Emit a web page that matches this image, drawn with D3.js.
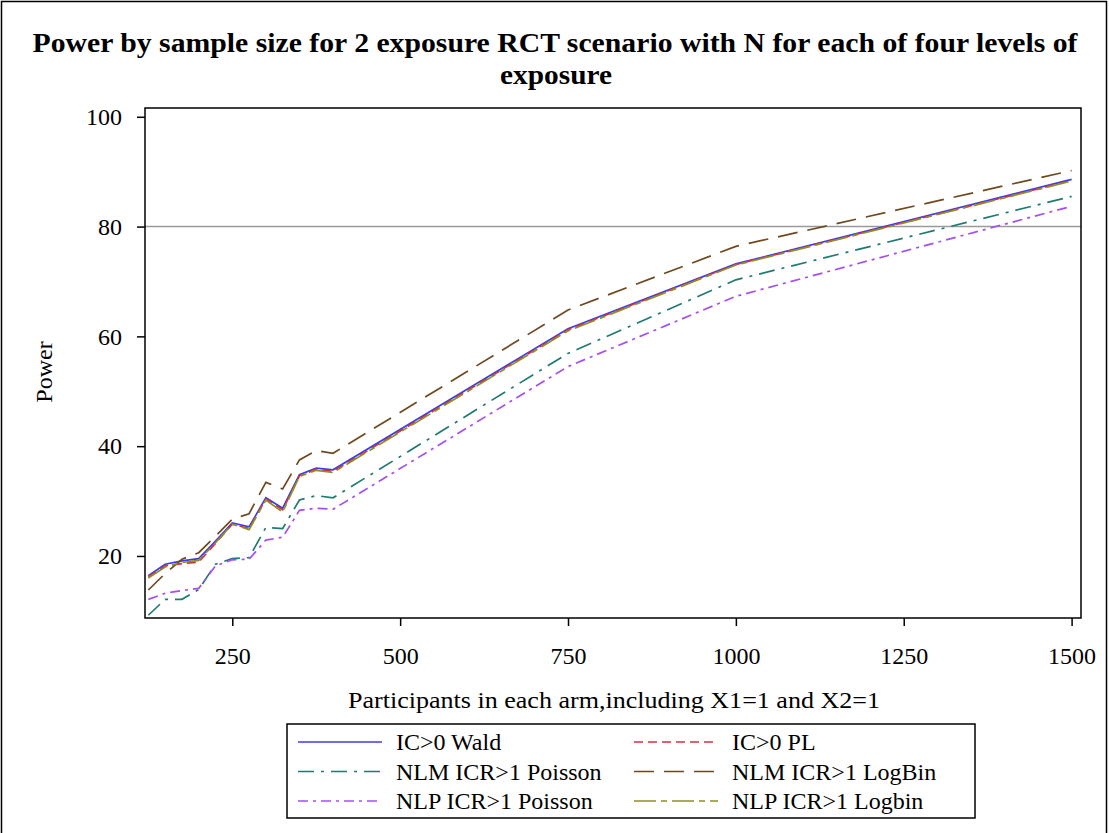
<!DOCTYPE html>
<html>
<head>
<meta charset="utf-8">
<script src="https://cdn.jsdelivr.net/npm/d3@7"></script>
<style>
  body { margin: 0; background: #fff; }
  svg { display: block; font-family: "Liberation Serif", "Times New Roman", serif; }
</style>
</head>
<body>
<div id="chart"></div>
<script>
// sample sizes (participants in each arm)
const sampleSizes = [125, 150, 175, 200, 225, 250, 275, 300, 325, 350, 375, 400, 750, 1000, 1500];

// power (%) per series
const icWald      = [16.4, 18.5, 19.1, 19.5, 22.7, 26.0, 25.3, 30.6, 28.7, 34.8, 36.0, 35.7, 61.4, 73.2, 88.6];
const icPL        = [16.2, 18.2, 18.6, 18.9, 22.3, 25.8, 25.0, 30.4, 28.4, 34.6, 35.8, 35.4, 61.2, 73.1, 88.4];
const nlmPoisson  = [9.2, 12.1, 12.1, 13.9, 18.5, 19.5, 19.7, 25.2, 25.0, 30.2, 31.0, 30.6, 56.9, 70.3, 85.5];
const nlmLogBin   = [13.8, 16.8, 19.4, 20.6, 23.6, 26.7, 27.7, 33.4, 32.2, 37.5, 39.2, 38.7, 64.8, 76.4, 90.2];
const nlpPoisson  = [12.1, 13.2, 13.7, 14.1, 18.2, 19.3, 19.4, 22.9, 23.4, 28.3, 28.7, 28.5, 54.5, 67.3, 83.7];
const nlpLogbin   = [16.0, 18.0, 18.8, 19.2, 22.4, 25.8, 24.8, 30.2, 28.0, 34.5, 35.6, 35.2, 61.0, 73.0, 88.3];

const seriesNames = ["IC>0 Wald", "IC>0 PL", "NLM ICR>1 Poisson", "NLM ICR>1 LogBin", "NLP ICR>1 Poisson", "NLP ICR>1 Logbin"];
const seriesValues = [icWald, icPL, nlmPoisson, nlmLogBin, nlpPoisson, nlpLogbin];

const xTicks = [250, 500, 750, 1000, 1250, 1500];
const yTicks = [20, 40, 60, 80, 100];
const referencePower = 80;

// styling per series
const colors = ["#3b3bf2", "#d2303f", "#1f7a70", "#6e4a1e", "#a550ee", "#8f8f2a"];
const dashes = [null, "9,5", "16,7,3,7", "20,10", "10,5,3,5", "22,5,6,5"];

const width = 1109, height = 833;
const margin = { top: 108, right: 28, bottom: 215, left: 145 };

const svg = d3.select("#chart").append("svg")
  .attr("width", width)
  .attr("height", height);

// outer border
svg.append("rect")
  .attr("x", 1.5).attr("y", 1.5)
  .attr("width", width - 4).attr("height", height + 10)
  .attr("fill", "none").attr("stroke", "#000").attr("stroke-width", 1.5);

// title
svg.append("text")
  .attr("x", 555).attr("y", 52)
  .attr("text-anchor", "middle")
  .attr("font-size", 27).attr("font-weight", "bold")
  .attr("textLength", 1045).attr("lengthAdjust", "spacingAndGlyphs")
  .text("Power by sample size for 2 exposure RCT scenario with N for each of four levels of");
svg.append("text")
  .attr("x", 556).attr("y", 84)
  .attr("text-anchor", "middle")
  .attr("font-size", 27).attr("font-weight", "bold")
  .attr("textLength", 112).attr("lengthAdjust", "spacingAndGlyphs")
  .text("exposure");

const x = d3.scaleLinear()
  .domain([120, 1514])
  .range([margin.left, width - margin.right]);

const y = d3.scaleLinear()
  .domain([8.7, 101.6])
  .range([height - margin.bottom, margin.top]);

// reference line
svg.append("line")
  .attr("x1", x.range()[0]).attr("x2", x.range()[1])
  .attr("y1", y(referencePower)).attr("y2", y(referencePower))
  .attr("stroke", "#9a9a9a").attr("stroke-width", 1.5);

// lines
const line = d3.line()
  .x((d, i) => x(sampleSizes[i]))
  .y(d => y(d));

seriesValues.forEach((vals, k) => {
  svg.append("path")
    .datum(vals)
    .attr("d", line)
    .attr("fill", "none")
    .attr("stroke", colors[k])
    .attr("stroke-width", 1.7)
    .attr("stroke-dasharray", dashes[k]);
});

// frame
svg.append("rect")
  .attr("x", x.range()[0]).attr("y", y.range()[1])
  .attr("width", x.range()[1] - x.range()[0])
  .attr("height", y.range()[0] - y.range()[1])
  .attr("fill", "none").attr("stroke", "#000").attr("stroke-width", 1.5);

// X axis
const xAxis = svg.append("g")
  .attr("transform", `translate(0,${y.range()[0]})`)
  .call(d3.axisBottom(x).tickValues(xTicks).tickFormat(d3.format("d"))
    .tickSize(8).tickSizeOuter(0).tickPadding(21));
xAxis.select(".domain").remove();
xAxis.selectAll("line").attr("stroke-width", 1.5);
xAxis.selectAll("text")
  .attr("font-family", "Liberation Serif, serif")
  .attr("font-size", 24).attr("fill", "#000");

// Y axis
const yAxis = svg.append("g")
  .attr("transform", `translate(${x.range()[0]},0)`)
  .call(d3.axisLeft(y).tickValues(yTicks).tickFormat(d3.format("d"))
    .tickSize(8).tickSizeOuter(0).tickPadding(15));
yAxis.select(".domain").remove();
yAxis.selectAll("line").attr("stroke-width", 1.5);
yAxis.selectAll("text")
  .attr("font-family", "Liberation Serif, serif")
  .attr("font-size", 24).attr("fill", "#000");

// axis labels
svg.append("text")
  .attr("x", 614).attr("y", 708)
  .attr("text-anchor", "middle")
  .attr("font-size", 24)
  .attr("textLength", 532).attr("lengthAdjust", "spacingAndGlyphs")
  .text("Participants in each arm,including X1=1 and X2=1");

svg.append("text")
  .attr("transform", `translate(52,372) rotate(-90)`)
  .attr("text-anchor", "middle")
  .attr("font-size", 24)
  .text("Power");

// legend
const legend = svg.append("g");
legend.append("rect")
  .attr("x", 287).attr("y", 724)
  .attr("width", 688).attr("height", 94)
  .attr("fill", "none").attr("stroke", "#000").attr("stroke-width", 1.5);

seriesNames.forEach((name, k) => {
  const col = k % 2, row = Math.floor(k / 2);
  const lx = col === 0 ? 298 : 634;
  const ly = 742 + row * 29.5;
  legend.append("line")
    .attr("x1", lx).attr("x2", lx + 84)
    .attr("y1", ly).attr("y2", ly)
    .attr("stroke", colors[k]).attr("stroke-width", 1.7)
    .attr("stroke-dasharray", dashes[k]);
  legend.append("text")
    .attr("x", lx + 98).attr("y", ly + 8)
    .attr("font-size", 24)
    .text(name);
});
</script>
</body>
</html>
